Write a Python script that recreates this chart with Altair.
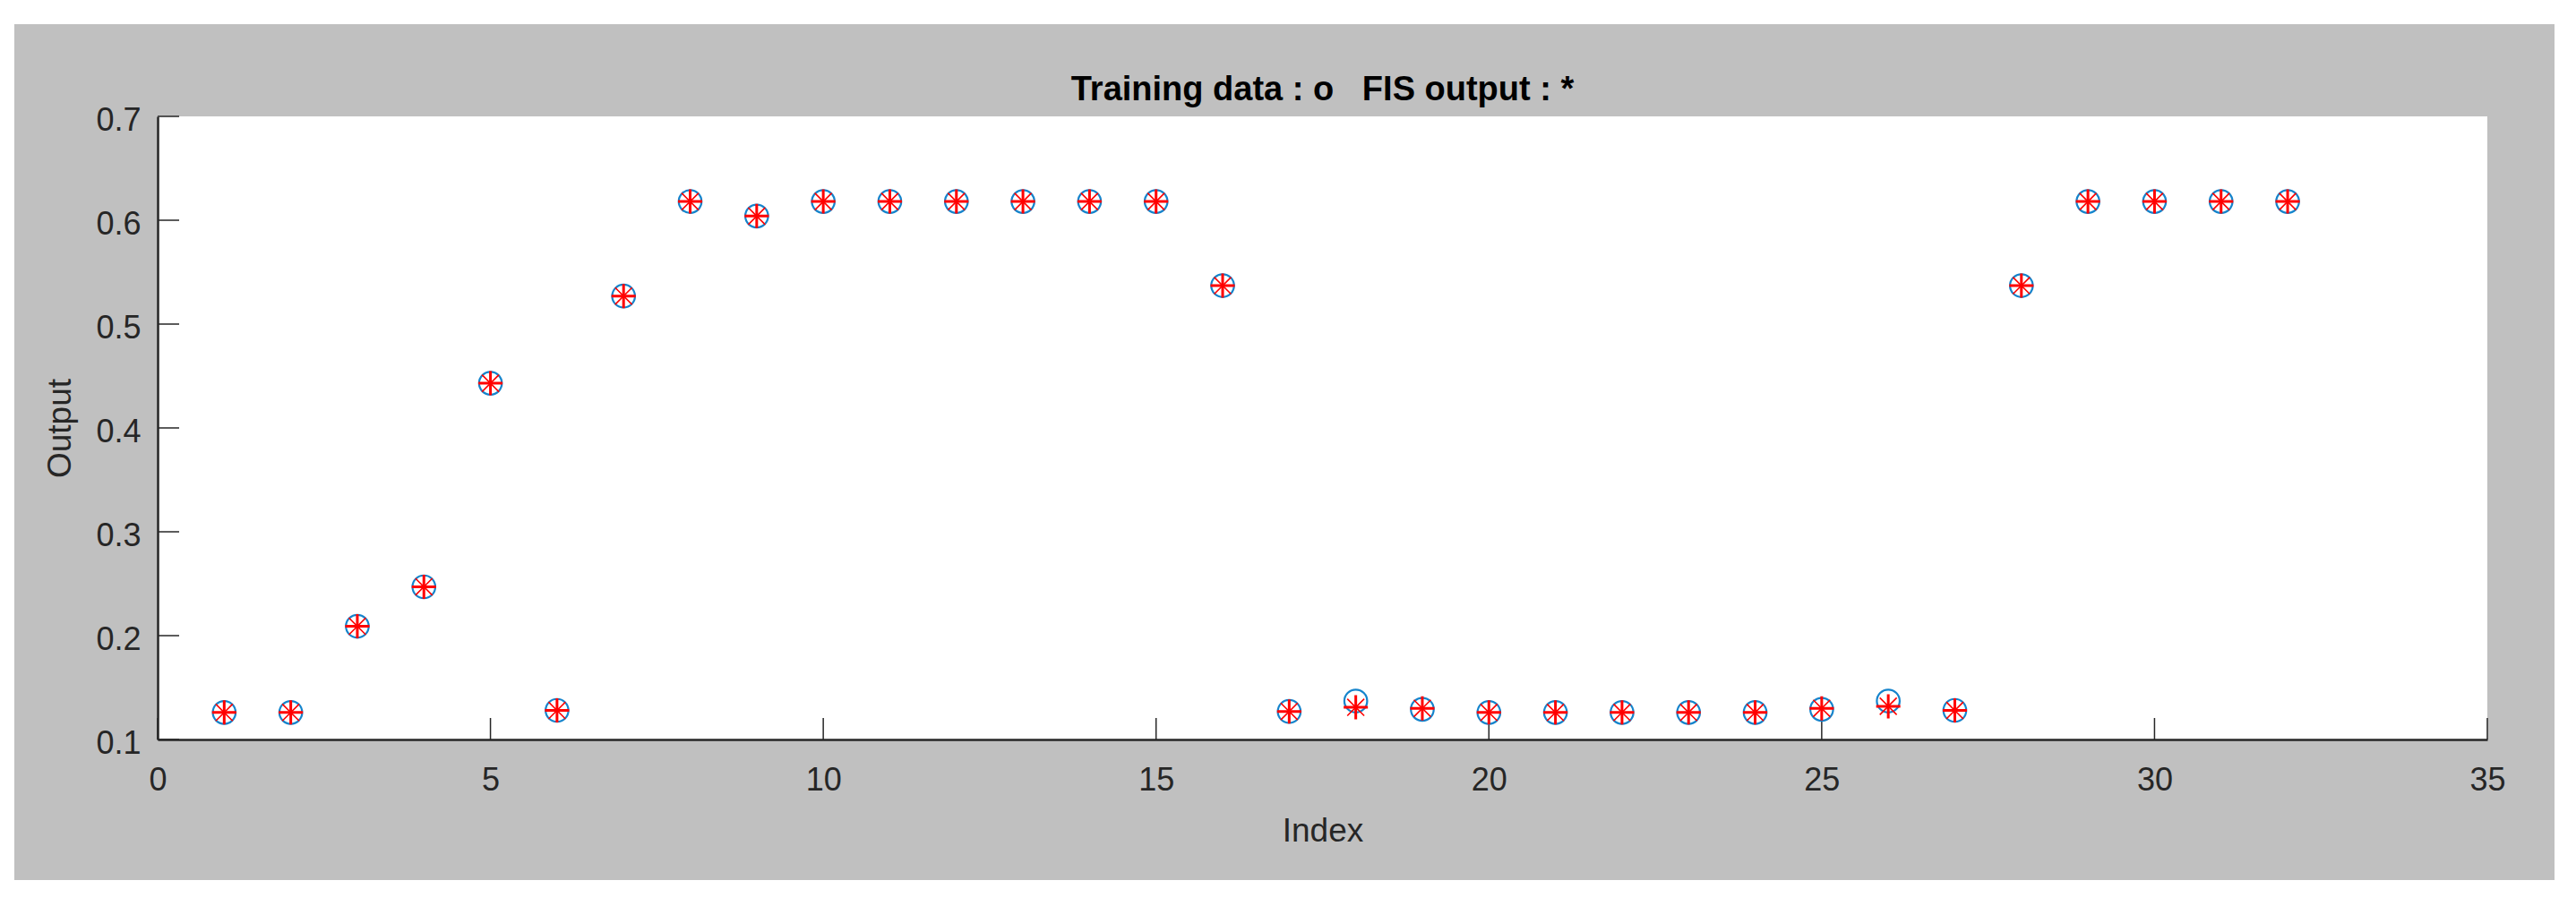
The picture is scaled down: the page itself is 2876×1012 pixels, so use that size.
import altair as alt
import pandas as pd

# ---- data ----
index = list(range(1, 33))
training = [0.126, 0.126, 0.209, 0.247, 0.443, 0.128, 0.527, 0.618, 0.604, 0.618,
            0.618, 0.618, 0.618, 0.618, 0.618, 0.537, 0.127, 0.137, 0.129, 0.126,
            0.126, 0.126, 0.126, 0.126, 0.129, 0.137, 0.128, 0.537, 0.618, 0.618,
            0.618, 0.618]
fis_output = [0.126, 0.126, 0.209, 0.247, 0.443, 0.128, 0.527, 0.618, 0.604, 0.618,
              0.618, 0.618, 0.618, 0.618, 0.618, 0.537, 0.127, 0.131, 0.130, 0.126,
              0.126, 0.126, 0.126, 0.126, 0.130, 0.132, 0.128, 0.537, 0.618, 0.618,
              0.618, 0.618]
x_ticks = [0, 5, 10, 15, 20, 25, 30, 35]
y_ticks = [0.1, 0.2, 0.3, 0.4, 0.5, 0.6, 0.7]

title_text = "Training data : o\u00a0\u00a0\u00a0FIS output : *"

W, H = 2601, 696
PAD = {"left": 168, "top": 122, "right": 83, "bottom": 174}
FONT = "Liberation Sans"
AX = "#262626"
GRAY = "#c0c0c0"
BLUE = "#1584cc"
RED = "#ff0000"
STAR_PLUS = "M0,-1L0,1M-1,0L1,0"
STAR_X = "M-0.7,-0.7L0.7,0.7M-0.7,0.7L0.7,-0.7"

df = pd.DataFrame({"index": index, "training": training, "fis": fis_output})

xscale = alt.Scale(domain=[0, 35], nice=False, zero=False)
yscale = alt.Scale(domain=[0.1, 0.7], nice=False, zero=False)

x_axis = alt.Axis(values=x_ticks, format="d", title="Index", titleX=W / 2, titleY=113,
                  titleBaseline="alphabetic", titleAlign="center", zindex=2,
                  labelPadding=28, labelFlush=False, labelOverlap=False)
y_axis = alt.Axis(values=y_ticks, format=".1f", title="Output", titleX=-98, titleY=H / 2,
                  titleBaseline="alphabetic", titleAlign="center", titleAngle=270, zindex=2,
                  labelPadding=19, labelFlush=False, labelOverlap=False,
                  labelBaseline="middle", labelOffset=4)

one = alt.Data(values=[{"title": title_text}])


def white_band(x0, x1, y0, y1):
    return alt.Chart(one).mark_rect(color="white").encode(
        x=alt.value(x0), x2=alt.value(x1), y=alt.value(y0), y2=alt.value(y1))


L, R, T, B = -PAD["left"], W + PAD["right"], -PAD["top"], H + PAD["bottom"]
# thin white page margin around the gray figure
bands = [white_band(L, R, T, -103), white_band(L, R, 853, B),
         white_band(L, -160, T, B), white_band(2676, R, T, B)]

# chart title
title = alt.Chart(one).mark_text(font=FONT, fontSize=38, fontWeight="bold", color="black",
                                 align="center", baseline="alphabetic").encode(
    text="title:N", x=alt.value(W / 2), y=alt.value(-18))

# inward ticks (MATLAB style)
xt = alt.Chart(pd.DataFrame({"t": x_ticks})).mark_rule(color=AX, strokeWidth=1.5).encode(
    x=alt.X("t:Q", scale=xscale, axis=x_axis),
    y=alt.value(H), y2=alt.value(H - 24))
yt = alt.Chart(pd.DataFrame({"t": y_ticks})).mark_rule(color=AX, strokeWidth=1.5).encode(
    y=alt.Y("t:Q", scale=yscale, axis=y_axis),
    x=alt.value(0), x2=alt.value(24))

circles = alt.Chart(df).mark_point(shape="circle", filled=False, size=650, strokeWidth=2.2,
                                   color=BLUE, opacity=1).encode(
    x=alt.X("index:Q", scale=xscale, axis=x_axis),
    y=alt.Y("training:Q", scale=yscale, axis=y_axis))

stars_x = alt.Chart(df).mark_point(shape=STAR_X, filled=False, size=729, strokeWidth=1.6,
                                   color=RED, opacity=1).encode(
    x=alt.X("index:Q", scale=xscale, axis=x_axis),
    y=alt.Y("fis:Q", scale=yscale, axis=y_axis))

stars_plus = alt.Chart(df).mark_point(shape=STAR_PLUS, filled=False, size=729, strokeWidth=3,
                                      color=RED, opacity=1).encode(
    x=alt.X("index:Q", scale=xscale, axis=x_axis),
    y=alt.Y("fis:Q", scale=yscale, axis=y_axis))

chart = alt.layer(*bands, title, xt, yt, circles, stars_x, stars_plus).properties(
    width=W, height=H,
    autosize=alt.AutoSizeParams(type="none"),
    padding=PAD,
    background=GRAY,
).configure_view(stroke=None, fill="white").configure_axis(
    domainColor=AX, domainWidth=2.5, ticks=False, tickSize=0, grid=False,
    labelFont=FONT, labelFontSize=36, labelColor=AX,
    titleFont=FONT, titleFontSize=37, titleFontWeight="normal", titleColor=AX,
)

chart.save("out.html", embed_options={"renderer": "svg", "actions": False})
